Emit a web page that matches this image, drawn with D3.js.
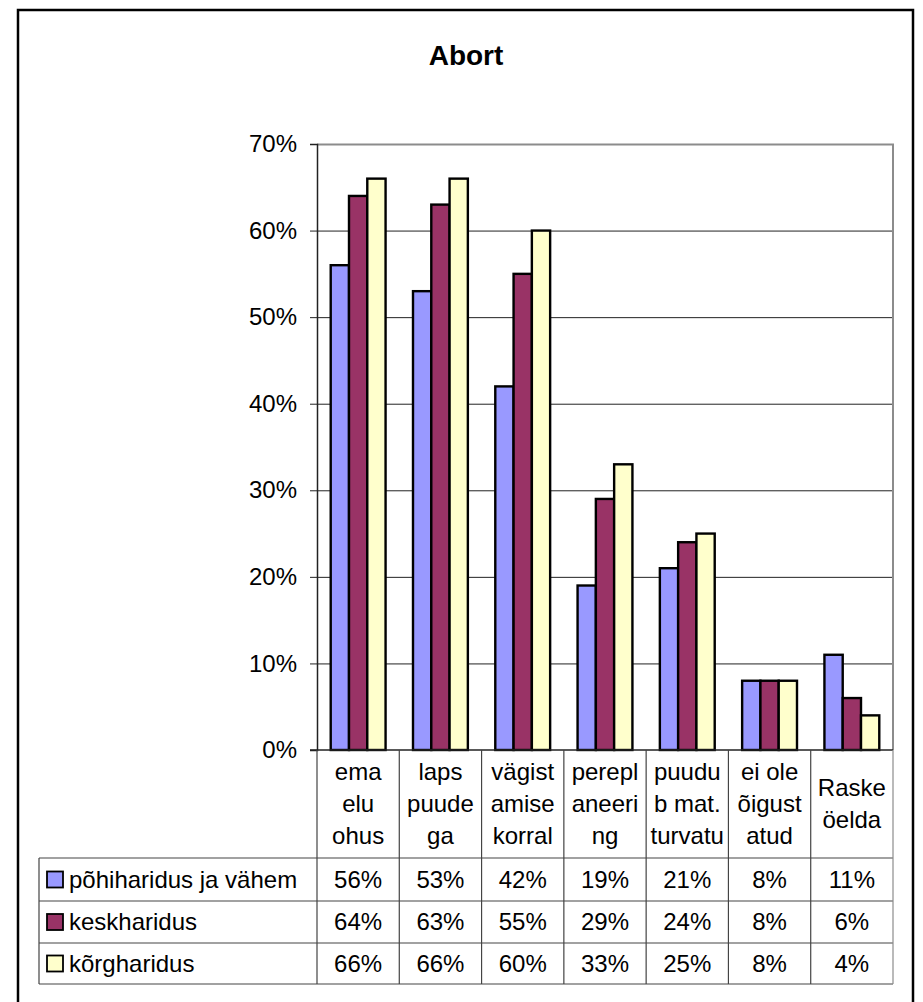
<!DOCTYPE html>
<html>
<head>
<meta charset="utf-8">
<script src="https://cdn.jsdelivr.net/npm/d3@7"></script>
<style>
  body { margin: 0; background: #fff; }
  text { font-family: "Liberation Sans", Arial, sans-serif; fill: #000; }
  .ticklabel { font-size: 24px; }
  .cell { font-size: 24px; }
  .title { font-size: 28px; font-weight: bold; }
</style>
</head>
<body>
<div id="vis"></div>
<script>

// categories, wrapped the way the original table shows them
var categories = [
  ["ema", "elu", "ohus"],
  ["laps", "puude", "ga"],
  ["vägist", "amise", "korral"],
  ["perepl", "aneeri", "ng"],
  ["puudu", "b mat.", "turvatu"],
  ["ei ole", "õigust", "atud"],
  ["Raske", "öelda"]
];
var seriesNames = ["põhiharidus ja vähem", "keskharidus", "kõrgharidus"];
var seriesColors = ["#9999ff", "#993366", "#ffffcc"];

var pohiharidus = [56, 53, 42, 19, 21, 8, 11];
var keskharidus = [64, 63, 55, 29, 24, 8, 6];
var korgharidus = [66, 66, 60, 33, 25, 8, 4];

var yTicks = [0, 10, 20, 30, 40, 50, 60, 70];

var seriesValues = [pohiharidus, keskharidus, korgharidus];

// plot area
var plotLeft = 317, plotRight = 893, plotTop = 144, plotBottom = 750;
var tableLeft = 39;
var rowLines = [858, 901, 943, 984];

var svg = d3.select("#vis").append("svg")
  .attr("width", 923)
  .attr("height", 1002);

// outer frame
svg.append("rect")
  .attr("x", 18).attr("y", 10)
  .attr("width", 895).attr("height", 1010)
  .attr("fill", "none")
  .attr("stroke", "#000")
  .attr("stroke-width", 2.5);

svg.append("text")
  .attr("class", "title")
  .attr("x", 466).attr("y", 65)
  .attr("text-anchor", "middle")
  .text("Abort");

var catIdx = d3.range(categories.length);
var x0 = d3.scaleBand().domain(catIdx).range([plotLeft, plotRight]).padding(0);
var x1 = d3.scaleBand().domain(d3.range(seriesNames.length))
  .range([0, x0.bandwidth()]).paddingInner(0).paddingOuter(0.75);
var y = d3.scaleLinear().domain([0, 70]).range([plotBottom, plotTop]);

// gridlines
svg.append("g").selectAll("line")
  .data(yTicks.slice(1, -1))
  .enter().append("line")
  .attr("x1", plotLeft).attr("x2", plotRight)
  .attr("y1", function(d) { return y(d) + 0.5; })
  .attr("y2", function(d) { return y(d) + 0.5; })
  .attr("stroke", "#222")
  .attr("stroke-width", 1);

// grey top and right edge of plot
svg.append("path")
  .attr("d", "M" + plotLeft + "," + (plotTop + 0.5) + "H" + plotRight + "V" + plotBottom)
  .attr("fill", "none")
  .attr("stroke", "#8c8c8c")
  .attr("stroke-width", 2);

// y axis
var yAxis = d3.axisLeft(y)
  .tickValues(yTicks)
  .tickSize(7)
  .tickPadding(13)
  .tickFormat(function(d) { return d + "%"; });

var gy = svg.append("g")
  .attr("transform", "translate(" + plotLeft + ",0)")
  .call(yAxis);
gy.attr("font-family", null).attr("font-size", null);
gy.select(".domain").attr("stroke", "#222").attr("stroke-width", 1.5);
gy.selectAll(".tick line").attr("stroke", "#222");
gy.selectAll(".tick text")
  .attr("class", "ticklabel")
  .attr("fill", "#000");

// bars
var groups = svg.append("g").selectAll("g")
  .data(catIdx)
  .enter().append("g")
  .attr("transform", function(i) { return "translate(" + x0(i) + ",0)"; });

groups.selectAll("rect")
  .data(function(i) { return seriesValues.map(function(s, k) { return {k: k, v: s[i]}; }); })
  .enter().append("rect")
  .attr("x", function(d) { return x1(d.k); })
  .attr("width", x1.bandwidth())
  .attr("y", function(d) { return y(d.v); })
  .attr("height", function(d) { return plotBottom - y(d.v); })
  .attr("fill", function(d) { return seriesColors[d.k]; })
  .attr("stroke", "#000")
  .attr("stroke-width", 2.4);

// x axis line
svg.append("line")
  .attr("x1", plotLeft - 7).attr("x2", plotRight)
  .attr("y1", plotBottom).attr("y2", plotBottom)
  .attr("stroke", "#222")
  .attr("stroke-width", 1.5);

// data table
var table = svg.append("g");

table.selectAll("line.row")
  .data(rowLines)
  .enter().append("line")
  .attr("class", "row")
  .attr("x1", tableLeft).attr("x2", plotRight)
  .attr("y1", function(d) { return d; })
  .attr("y2", function(d) { return d; })
  .attr("stroke", "#444").attr("stroke-width", 1.2);

table.append("line")
  .attr("x1", tableLeft).attr("x2", tableLeft)
  .attr("y1", rowLines[0]).attr("y2", rowLines[rowLines.length - 1])
  .attr("stroke", "#444").attr("stroke-width", 1.2);

table.selectAll("line.col")
  .data(d3.range(categories.length + 1))
  .enter().append("line")
  .attr("class", "col")
  .attr("x1", function(i) { return i < categories.length ? x0(i) : plotRight; })
  .attr("x2", function(i) { return i < categories.length ? x0(i) : plotRight; })
  .attr("y1", plotBottom)
  .attr("y2", rowLines[rowLines.length - 1])
  .attr("stroke", function(i) { return i < categories.length ? "#444" : "#8c8c8c"; })
  .attr("stroke-width", 1.2);

// category labels
var lineGap = 32;
var headMid = (plotBottom + rowLines[0]) / 2;
table.selectAll("text.cat")
  .data(catIdx)
  .enter().append("text")
  .attr("class", "cell cat")
  .attr("text-anchor", "middle")
  .each(function(i) {
    var lines = categories[i];
    var start = headMid - (lines.length - 1) * lineGap / 2;
    d3.select(this).selectAll("tspan")
      .data(lines)
      .enter().append("tspan")
      .attr("x", x0(i) + x0.bandwidth() / 2)
      .attr("y", function(d, j) { return start + j * lineGap + 8; })
      .text(function(d) { return d; });
  });

// legend keys + names, then the value cells
seriesNames.forEach(function(name, k) {
  var mid = (rowLines[k] + rowLines[k + 1]) / 2;
  table.append("rect")
    .attr("x", 47).attr("y", mid - 8)
    .attr("width", 16).attr("height", 16)
    .attr("fill", seriesColors[k])
    .attr("stroke", "#000").attr("stroke-width", 1.8);
  table.append("text")
    .attr("class", "cell")
    .attr("x", 69).attr("y", mid + 8)
    .text(name);

  table.selectAll("text.v" + k)
    .data(seriesValues[k])
    .enter().append("text")
    .attr("class", "cell v" + k)
    .attr("text-anchor", "middle")
    .attr("x", function(d, i) { return x0(i) + x0.bandwidth() / 2; })
    .attr("y", mid + 8)
    .text(function(d) { return d + "%"; });
});

</script>
</body>
</html>
